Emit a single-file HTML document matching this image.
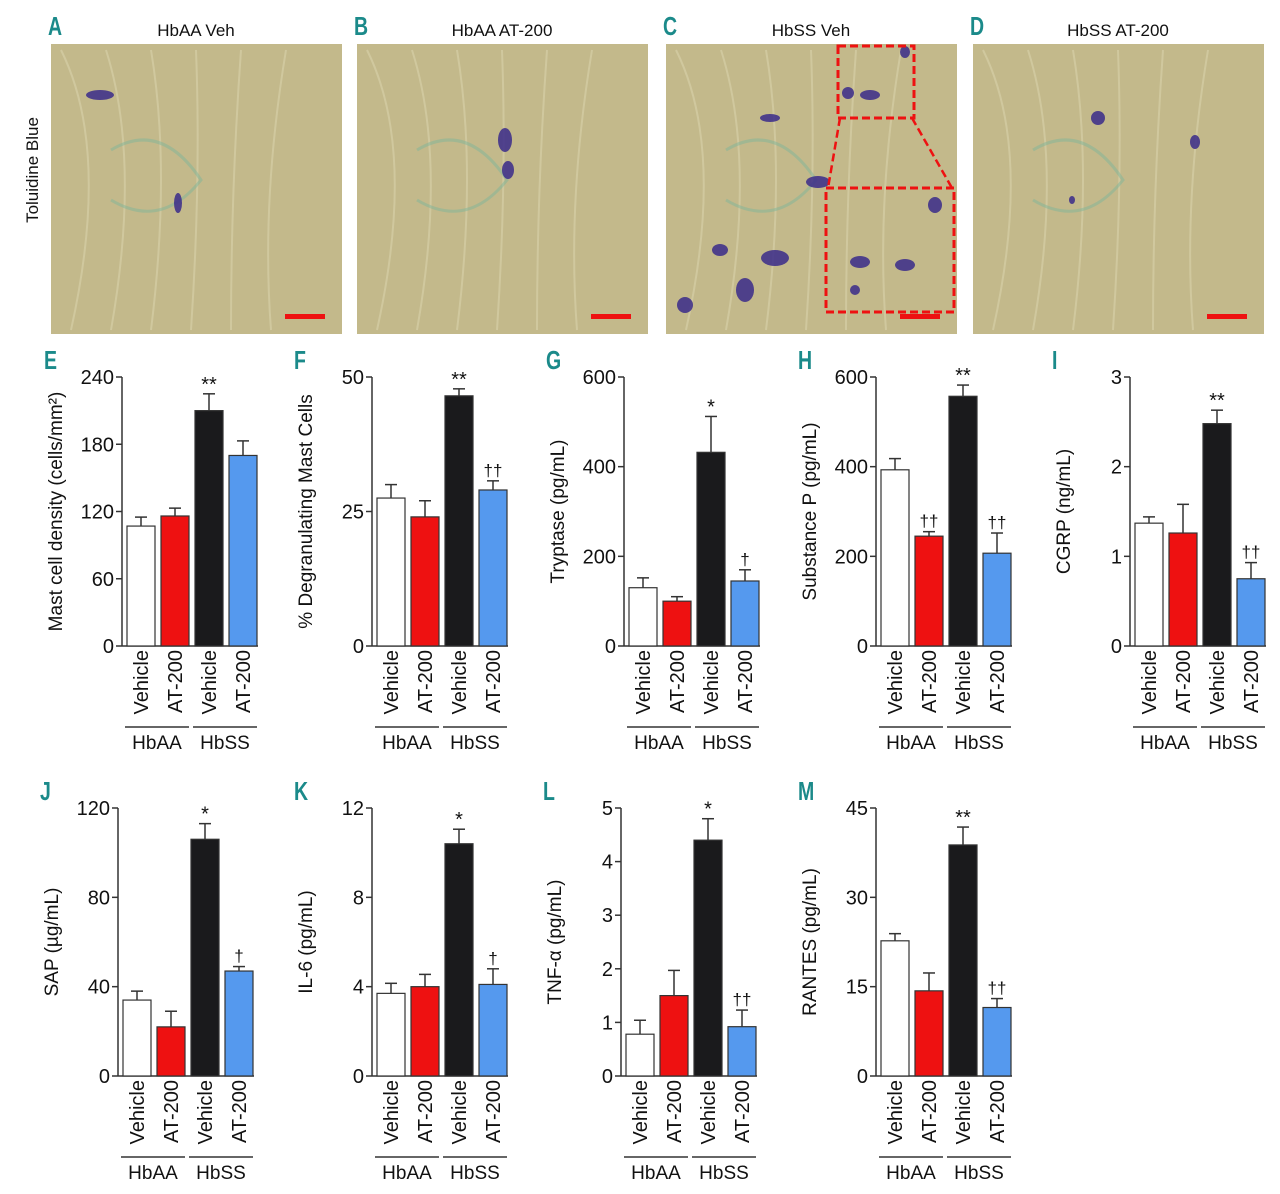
<!DOCTYPE html>
<html><head><meta charset="utf-8"><style>
html,body{margin:0;padding:0;background:#fff;}
svg{display:block;font-family:"Liberation Sans",sans-serif;}
</style></head><body>
<svg id="fig" width="1280" height="1194" viewBox="0 0 1280 1194" xmlns="http://www.w3.org/2000/svg">
<g id="micro"></g>
<g id="charts"></g>
</svg>
<script>
// ---- chart data ----
const categories = ["Vehicle","AT-200","Vehicle","AT-200"];
const groups = ["HbAA","HbSS"];
const colors = ["#ffffff","#ee1111","#1a1a1c","#5599ee"];
const panelLetters = ["E","F","G","H","I","J","K","L","M"];
const yTitles = ["Mast cell density (cells/mm²)","% Degranulating Mast Cells","Tryptase (pg/mL)","Substance P (pg/mL)","CGRP (ng/mL)","SAP (µg/mL)","IL-6 (pg/mL)","TNF-α (pg/mL)","RANTES (pg/mL)"];
const yMax = [240,50,600,600,3,120,12,5,45];
const tickE = [0,60,120,180,240];
const tickF = [0,25,50];
const tickG = [0,200,400,600];
const tickH = [0,200,400,600];
const tickI = [0,1,2,3];
const tickJ = [0,40,80,120];
const tickK = [0,4,8,12];
const tickL = [0,1,2,3,4,5];
const tickM = [0,15,30,45];
const valE = [107,116,210,170], errE = [8,7,15,13];
const valF = [27.5,24,46.5,29], errF = [2.5,3,1.3,1.7];
const valG = [130,100,432,145], errG = [22,10,80,25];
const valH = [393,245,557,207], errH = [25,10,25,45];
const valI = [1.37,1.26,2.48,0.75], errI = [0.07,0.32,0.15,0.18];
const valJ = [34,22,106,47], errJ = [4,7,7,2];
const valK = [3.7,4.0,10.4,4.1], errK = [0.45,0.55,0.65,0.7];
const valL = [0.78,1.5,4.4,0.92], errL = [0.26,0.47,0.4,0.31];
const valM = [22.7,14.3,38.8,11.5], errM = [1.2,3,3,1.5];
const sigE = ["","","**",""], sigF = ["","","**","††"], sigG = ["","","*","†"];
const sigH = ["","††","**","††"], sigI = ["","","**","††"], sigJ = ["","","*","†"];
const sigK = ["","","*","†"], sigL = ["","","*","††"], sigM = ["","","**","††"];

const NS="http://www.w3.org/2000/svg";
function mk(parent,tag,attrs,text){const e=document.createElementNS(NS,tag);for(const k in attrs)e.setAttribute(k,attrs[k]);if(text!==undefined)e.textContent=text;parent.appendChild(e);return e;}

// ---- micrographs ----
const micro=document.getElementById('micro');
const mp=[{x:51,t:"HbAA Veh",l:"A"},{x:357,t:"HbAA AT-200",l:"B"},{x:666,t:"HbSS Veh",l:"C"},{x:973,t:"HbSS AT-200",l:"D"}];
const blobs=[[[100,95,14,5],[178,203,4,10]],[[505,140,7,12],[508,170,6,9]],[[770,118,10,4],[818,182,12,6],[720,250,8,6],[775,258,14,8],[745,290,9,12],[685,305,8,8],[848,93,6,6],[905,52,5,6],[870,95,10,5],[935,205,7,8],[860,262,10,6],[905,265,10,6],[855,290,5,5]],[[1098,118,7,7],[1195,142,5,7],[1072,200,3,4]]];
mp.forEach((p,i)=>{
  const g=mk(micro,'g',{});
  
  
  const r=mk(g,'rect',{x:p.x,y:44,width:291,height:290,fill:'#c3b98b'});
  
  
  // tissue strands
  for(let k=0;k<6;k++){mk(g,'path',{d:`M${p.x+10+k*45} 50 Q${p.x+60+k*30} ${150+k*10} ${p.x+20+k*40} 330`,stroke:'#d6cfa6',fill:'none','stroke-width':2,opacity:0.7});}
  mk(g,'path',{d:`M${p.x+60} 150 Q${p.x+110} 120 ${p.x+150} 180 Q${p.x+110} 230 ${p.x+60} 200`,stroke:'#7fb59a',fill:'none','stroke-width':3,opacity:0.5});
  blobs[i].forEach(b=>{const e=mk(g,'ellipse',{cx:b[0],cy:b[1],rx:b[2],ry:b[3],fill:'#3a2a8a',opacity:0.85});});
  const sb=mk(g,'rect',{x:p.x+234,y:314,width:40,height:5,fill:'#ee1111'});
  
  const lt=mk(g,'text',{x:p.x-3,y:35,'font-size':26,'font-weight':'bold',fill:'#1b8a8a',transform:`translate(${p.x-3} 35) scale(0.75 1) translate(${-(p.x-3)} -35)`},p.l);
  
  const tt=mk(g,'text',{x:p.x+145,y:36,'font-size':17,'text-anchor':'middle',fill:'#111'},p.t);
  
});
// inset boxes in C
[[838,46,76,72],[826,188,128,124]].forEach(b=>{const e=mk(micro,'rect',{x:b[0],y:b[1],width:b[2],height:b[3],fill:'none',stroke:'#ee1111','stroke-width':3,'stroke-dasharray':'8 4'});});
mk(micro,'path',{d:'M840 118 L828 188 M912 118 L952 188',stroke:'#ee1111','stroke-width':2.5,'stroke-dasharray':'8 4',fill:'none'});
const tb=mk(micro,'text',{x:0,y:0,'font-size':17,'text-anchor':'middle',fill:'#111',transform:'translate(38 170) rotate(-90)'},"Toluidine Blue");


// ---- charts ----
const charts=document.getElementById('charts');
const vals=[valE,valF,valG,valH,valI,valJ,valK,valL,valM];
const errs=[errE,errF,errG,errH,errI,errJ,errK,errL,errM];
const ticks=[tickE,tickF,tickG,tickH,tickI,tickJ,tickK,tickL,tickM];
const sigs=[sigE,sigF,sigG,sigH,sigI,sigJ,sigK,sigL,sigM];
const axX=[122,372,624,876,1130,118,372,621,876];
for(let p=0;p<9;p++){
  const row=p<5?0:1;
  const top=row?808:377, zero=row?1076:646;
  const ax=axX[p];
  const yS=v=>zero-(v/yMax[p])*(zero-top);
  const g=mk(charts,'g',{});
  
  
  const lt=mk(g,'text',{x:0,y:0,'font-size':26,'font-weight':'bold',fill:'#1b8a8a',transform:`translate(${ax-78} ${top-8}) scale(0.75 1)`},panelLetters[p]);
  
  const yl=mk(g,'text',{x:0,y:0,'font-size':19,'text-anchor':'middle',fill:'#111',transform:`translate(${ax-60} ${(top+zero)/2}) rotate(-90)`},yTitles[p]);
  
  const al=mk(g,'line',{x1:ax,y1:top,x2:ax,y2:zero,stroke:'#333','stroke-width':1.5});
  
  const bl=mk(g,'line',{x1:ax,y1:zero,x2:ax+136,y2:zero,stroke:'#333','stroke-width':1.5});
  
  ticks[p].forEach(t=>{
    mk(g,'line',{x1:ax-6,y1:yS(t),x2:ax,y2:yS(t),stroke:'#333','stroke-width':1.5});
    const tx=mk(g,'text',{x:ax-8,y:yS(t)+7,'font-size':20,'text-anchor':'end',fill:'#111'},String(t));
    
  });
  vals[p].forEach((v,i)=>{
    const x=ax+5+i*34, w=28, cx=x+w/2;
    const e=errs[p][i];
    mk(g,'line',{x1:cx,y1:yS(v),x2:cx,y2:yS(v+e),stroke:'#333','stroke-width':1.5});
    mk(g,'line',{x1:cx-6,y1:yS(v+e),x2:cx+6,y2:yS(v+e),stroke:'#333','stroke-width':1.5});
    const b=mk(g,'rect',{x:x,y:yS(v),width:w,height:zero-yS(v),fill:colors[i],stroke:'#333','stroke-width':1.2});
    
    
    if(sigs[p][i]){const s=mk(g,'text',{x:cx,y:yS(v+e)-(sigs[p][i].includes('*')?3:5),'font-size':sigs[p][i].includes('*')?20:17,'text-anchor':'middle',fill:'#111'},sigs[p][i]);
      }
    const cl=mk(g,'text',{x:0,y:0,'font-size':20,'text-anchor':'end',fill:'#111',transform:`translate(${cx+7} ${zero+4}) rotate(-90)`},categories[i]);
    
  });
  groups.forEach((gr,j)=>{
    const x1=ax+3+j*68, x2=x1+64, ly=zero+81;
    mk(g,'line',{x1:x1,y1:ly,x2:x2,y2:ly,stroke:'#333','stroke-width':1.5});
    const gt=mk(g,'text',{x:(x1+x2)/2,y:ly+22,'font-size':19,'text-anchor':'middle',fill:'#111'},gr);
    
  });
}
</script>
</body></html>
